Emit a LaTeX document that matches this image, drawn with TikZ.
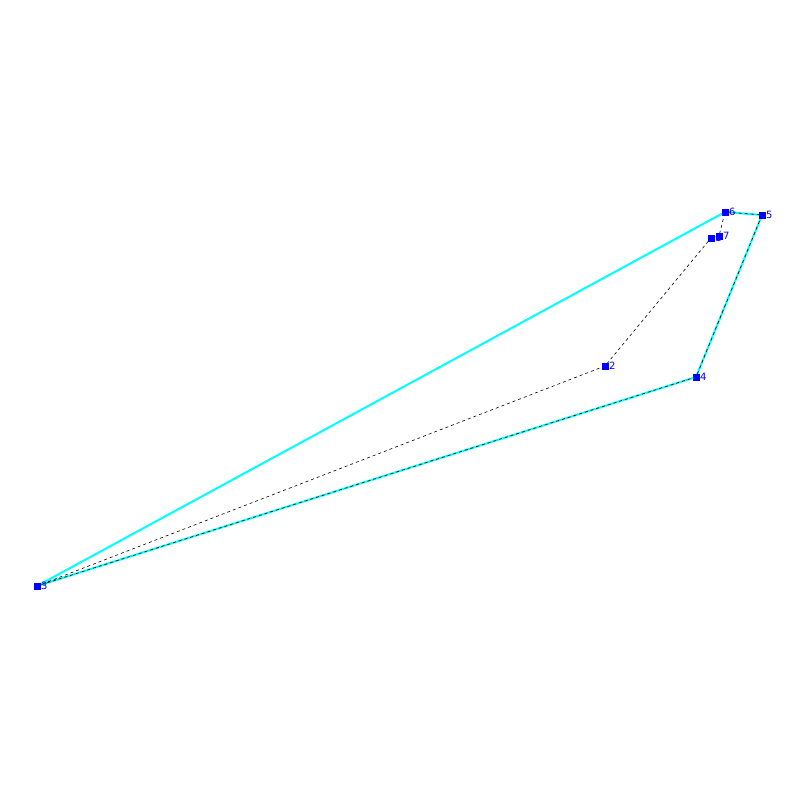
\documentclass[tikz,border=0pt]{standalone}
\usepackage{fontspec}
\setmainfont{DejaVu Sans}
\definecolor{hullc}{RGB}{0,255,255}
\definecolor{ptc}{RGB}{0,0,255}
\begin{document}
\begin{tikzpicture}[x=1pt,y=-1pt,
  pt/.style={fill=ptc,minimum size=7pt,inner sep=0pt,outer sep=0pt},
  lbl/.style={text=ptc,font=\fontsize{10}{10}\selectfont,inner sep=0pt,anchor=west,xshift=4pt},
  hull/.style={hullc,line width=2pt},
  route/.style={black,line width=0.6pt,dash pattern=on 3pt off 3pt}]
\useasboundingbox (0,0) rectangle (800,800);
\coordinate (p1) at (711,238);
\coordinate (p2) at (605,366);
\coordinate (p3) at (37,586);
\coordinate (p4) at (696,377);
\coordinate (p5) at (762,215);
\coordinate (p6) at (725,212);
\coordinate (p7) at (719,236);
\draw[hull] (p3) -- (p6) -- (p5) -- (p4) -- cycle;
\draw[route] (p3) -- (p2) -- (p1) -- (p7) -- (p6) -- (p5) -- (p4) -- cycle;
\foreach \i in {1,2,3,4,5,6,7}{
  \node[pt] (n\i) at (p\i) {};
  \node[lbl] (l\i) at (p\i) {\i};
}
\end{tikzpicture}
\end{document}
